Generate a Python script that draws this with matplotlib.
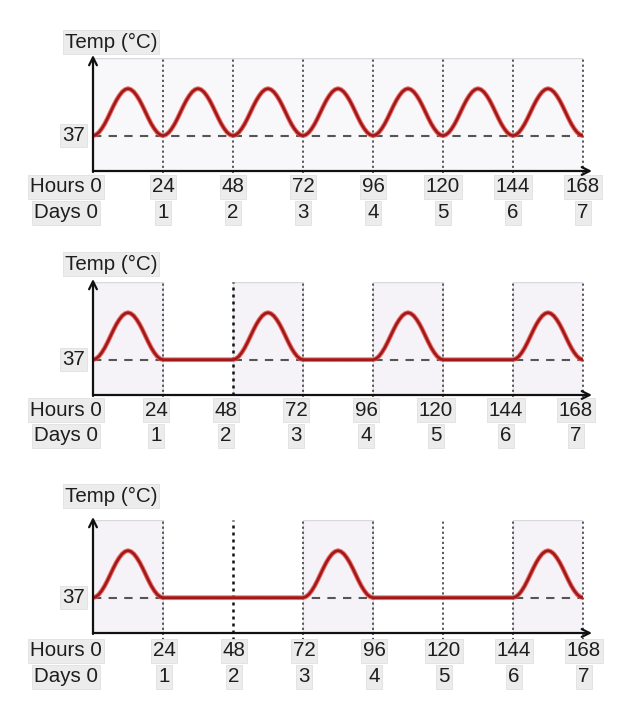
import matplotlib
matplotlib.use("Agg")
import matplotlib.pyplot as plt
import numpy as np

plt.rcParams['font.family'] = ['Liberation Sans', 'DejaVu Sans']

# ---- data -------------------------------------------------------------
hour_ticks = [0, 24, 48, 72, 96, 120, 144, 168]
day_ticks = [0, 1, 2, 3, 4, 5, 6, 7]
base_temp = 37
peak_temp = 39
# one fever episode: relative rise above baseline, sampled every hour over a day
episode_profile = [0, 0.02, 0.07, 0.15, 0.25, 0.37, 0.5, 0.63, 0.75, 0.85, 0.93,
                   0.98, 1.0, 0.98, 0.93, 0.85, 0.75, 0.63, 0.5, 0.37, 0.25,
                   0.15, 0.07, 0.02, 0]
# days (starting day index) on which a fever episode occurs
fever_days_daily = [0, 1, 2, 3, 4, 5, 6]
fever_days_tertian = [0, 2, 4, 6]
fever_days_quartan = [0, 3, 6]
# shaded fever windows (start hour, end hour)
shade_daily = [(0, 168)]
shade_tertian = [(0, 24), (48, 72), (96, 120), (144, 168)]
shade_quartan = [(0, 24), (72, 96), (144, 168)]
# dotted day boundaries drawn darker
strong_lines_tertian = [48]
strong_lines_quartan = [48]

panels = [
    dict(days=fever_days_daily, shade=shade_daily, strong=[], fill='#f8f7fa'),
    dict(days=fever_days_tertian, shade=shade_tertian, strong=strong_lines_tertian, fill='#f5f3f7'),
    dict(days=fever_days_quartan, shade=shade_quartan, strong=strong_lines_quartan, fill='#f5f3f7'),
]

# ---- layout (pixels) --------------------------------------------------
W, H = 626, 713
X0, X1 = 93, 583           # pixel x of hour 0 and hour 168
axis_y = [171, 395, 633]   # pixel y of the time axis
top_y = [58, 282, 520]     # pixel y of the top of the shaded area
label_y = [42, 264, 496]   # pixel y of the "Temp" label
hours_dy = [16, 15, 18]
days_dy = [42, 41, 44]
tick_shift = [0, -7, 1]

YMIN, YMAX = 35.5, 40.3

fig = plt.figure(figsize=(W / 100, H / 100), dpi=100)
fig.patch.set_facecolor('white')

box = dict(boxstyle='square,pad=0.1', facecolor='#ececec', edgecolor='#e0e0e0', lw=0.6)
fs = 14.8


def hours_curve(days):
    t, y = [], []
    fever = set(days)
    for d in range(7):
        hrs = [d * 24 + h for h in range(25)]
        if d in fever:
            vals = [base_temp + (peak_temp - base_temp) * p for p in episode_profile]
        else:
            vals = [base_temp] * 25
        t.extend(hrs)
        y.extend(vals)
    return np.array(t), np.array(y)


for i, p in enumerate(panels):
    ax = fig.add_axes([X0 / W, 1 - axis_y[i] / H, (X1 - X0) / W, (axis_y[i] - top_y[i]) / H])
    ax.set_xlim(0, 168)
    ax.set_ylim(YMIN, YMAX)
    ax.axis('off')

    px_x = 168 / (X1 - X0)
    px_y = (YMAX - YMIN) / (axis_y[i] - top_y[i])

    # shaded fever windows
    for (a, b) in p['shade']:
        ax.fill_between([a, b], YMIN, YMAX, facecolor=p['fill'], edgecolor='none', zorder=0)
        ax.plot([a, b], [YMAX, YMAX], color='#d8d8de', lw=1.0, zorder=0.5)
        for xx in (a, b):
            ax.plot([xx, xx], [YMIN, YMAX], color='#dedee4', lw=0.8, zorder=0.5)

    # day boundary lines
    for h in hour_ticks[1:]:
        strong = h in p['strong']
        ax.plot([h, h], [YMIN - 7 * px_y, YMAX], linestyle=(0, (1.2, 1.6)),
                color='#111111' if strong else '#4a4a4a', lw=1.8 if strong else 1.3,
                clip_on=False, zorder=2)

    # baseline 37 °C
    ax.plot([0, 168], [base_temp, base_temp], color='#555555', lw=1.5,
            linestyle=(0, (4, 3.5)), zorder=3)

    # temperature curve
    t, y = hours_curve(p['days'])
    ax.plot(t, y, color='#ee4a44', lw=3.4, alpha=0.8, solid_capstyle='round', zorder=4)
    ax.plot(t, y, color='#9c1a1a', lw=1.9, solid_capstyle='round', zorder=5)

    # axes with arrows
    ax.annotate('', xy=(0, YMAX + 3 * px_y), xytext=(0, YMIN - 1 * px_y),
                arrowprops=dict(arrowstyle='->', lw=1.6, color='#111111',
                                mutation_scale=14, shrinkA=0, shrinkB=0),
                annotation_clip=False, zorder=6)
    ax.annotate('', xy=(168 + 9 * px_x, YMIN), xytext=(0, YMIN),
                arrowprops=dict(arrowstyle='->', lw=1.6, color='#111111',
                                mutation_scale=14, shrinkA=0, shrinkB=0),
                annotation_clip=False, zorder=6)

    # labels
    fig.text(111 / W, 1 - label_y[i] / H, 'Temp (°C)', fontsize=fs, ha='center',
             va='center', color='#1e1e1e', bbox=box)
    ax.text(-8 * px_x, base_temp, str(base_temp), fontsize=fs, ha='right', va='center',
            color='#1e1e1e', bbox=box)
    yh = YMIN - hours_dy[i] * px_y
    yd = YMIN - days_dy[i] * px_y
    ax.text(9 * px_x, yh, 'Hours 0', fontsize=fs, ha='right', va='center',
            color='#1e1e1e', bbox=box, clip_on=False)
    ax.text(5 * px_x, yd, 'Days 0', fontsize=fs, ha='right', va='center',
            color='#1e1e1e', bbox=box, clip_on=False)
    for h, d in zip(hour_ticks[1:], day_ticks[1:]):
        xx = h + tick_shift[i] * px_x
        ax.text(xx, yh, str(h), fontsize=fs, ha='center', va='center',
                color='#1e1e1e', bbox=box, clip_on=False)
        ax.text(xx, yd, str(d), fontsize=fs, ha='center', va='center',
                color='#1e1e1e', bbox=box, clip_on=False)

fig.savefig('out.png', dpi=100, facecolor='white')
